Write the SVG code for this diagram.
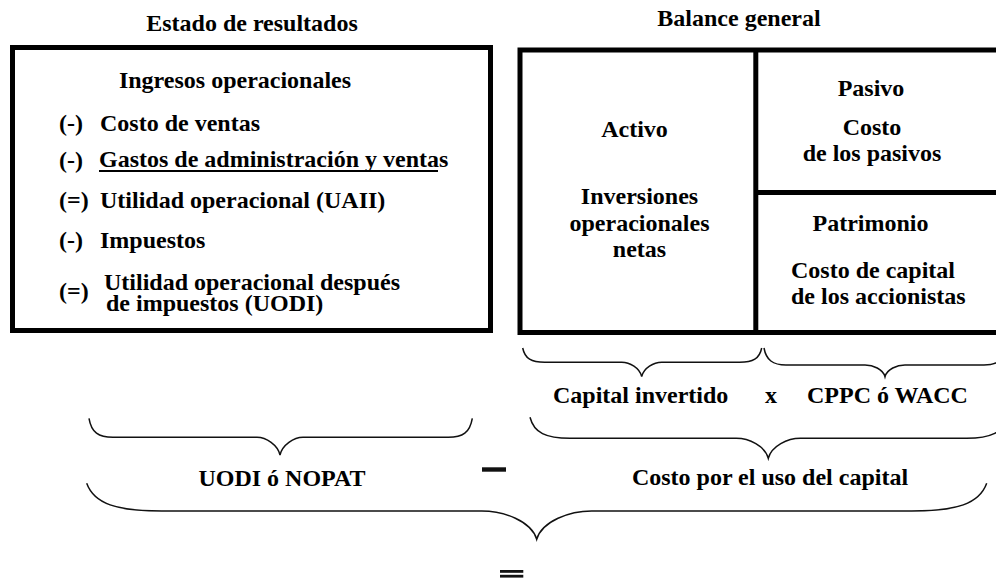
<svg xmlns="http://www.w3.org/2000/svg" width="996" height="579" viewBox="0 0 996 579">
<style>
  text { font-family: "Liberation Serif", "Times New Roman", serif; font-weight: bold; font-size: 24px; fill: #000; }
  .mid { text-anchor: middle; }
  .box { fill: none; stroke: #000; stroke-width: 5; }
  .div { stroke: #000; stroke-width: 5; }
  .brace { fill: none; stroke: #111; stroke-width: 1.5; }
  .bar { fill: #111; }
</style>
<rect width="996" height="579" fill="#fff"/>

<g id="estado-resultados">
  <text class="mid" x="252" y="31">Estado de resultados</text>
  <rect class="box" x="12.5" y="47.5" width="478" height="283"/>
  <text class="mid" x="235" y="88">Ingresos operacionales</text>
  <text x="59" y="131">(-)</text>
  <text x="100" y="131">Costo de ventas</text>
  <text x="59" y="168">(-)</text>
  <text x="99" y="166.5">Gastos de administración y ventas</text>
  <line x1="99" y1="171" x2="438" y2="171" stroke="#000" stroke-width="1.8"/>
  <text x="59" y="208">(=)</text>
  <text x="100" y="208">Utilidad operacional (UAII)</text>
  <text x="59" y="248">(-)</text>
  <text x="100" y="248">Impuestos</text>
  <text x="59" y="298.5">(=)</text>
  <text x="104" y="290">Utilidad operacional después</text>
  <text x="106" y="311">de impuestos (UODI)</text>
</g>

<g id="balance-general">
  <text class="mid" x="739" y="26">Balance general</text>
  <rect class="box" x="520" y="50" width="490" height="282.5"/>
  <line class="div" x1="755.8" y1="50" x2="755.8" y2="332.5"/>
  <line class="div" x1="755.8" y1="192.5" x2="1000" y2="192.5"/>
</g>

<g id="activo">
  <text class="mid" x="634.5" y="137">Activo</text>
  <text class="mid" x="639.5" y="204">Inversiones</text>
  <text class="mid" x="639.5" y="230.5">operacionales</text>
  <text class="mid" x="639.5" y="257">netas</text>
</g>

<g id="pasivo">
  <text class="mid" x="871" y="96">Pasivo</text>
  <text class="mid" x="872" y="135">Costo</text>
  <text class="mid" x="872" y="161">de los pasivos</text>
</g>

<g id="patrimonio">
  <text class="mid" x="870.5" y="231">Patrimonio</text>
  <text x="791" y="278">Costo de capital</text>
  <text x="791" y="304">de los accionistas</text>
</g>

<g id="connectors">
  <path class="brace" d="M522.7,348 C524.9,358.7 531.5,362.3 544.7,362.3 L621.7,362.3 C629.7,362.3 639.7,368 641.7,376.7 C643.7,368 653.7,362.3 661.7,362.3 L739.7,362.3 C752.9,362.3 759.5,358.7 761.7,348"/>
  <path class="brace" d="M764,348 C766.2,360 772.8,365 786,365 L865,365 C873,365 883,369 885,376.7 C887,369 897,365 905,365 L984,365 C997.2,365 1003.8,360 1006,348"/>
  <path class="brace" d="M530,417.3 C534,433 546,438.3 570,438.3 L736.3,438.3 C749,438.3 765,446 768.3,458.3 C771.6,446 787.6,438.3 800.3,438.3 L966.6,438.3 C990.6,438.3 1002.6,433 1006.6,417.3"/>
  <path class="brace" d="M89,418.3 C91.4,432.5 98.6,437.3 113,437.3 L257,437.3 C266.2,437.3 277.7,445 280,455 C282.3,445 293.8,437.3 303,437.3 L448.3,437.3 C462.7,437.3 469.9,432.5 472.3,418.3"/>
  <path class="brace" d="M86.7,483.3 C94.2,504 116.7,511 161.7,511 L481.7,511 C503.7,511 531.2,521 536.7,539.3 C542.2,521 569.7,511 591.7,511 L911.7,511 C956.7,511 979.2,504 986.7,483.3"/>
</g>

<g id="formula">
  <text x="553" y="403">Capital invertido</text>
  <text class="mid" x="771" y="403">x</text>
  <text x="807" y="403">CPPC ó WACC</text>
  <text class="mid" x="770" y="485">Costo por el uso del capital</text>
  <text class="mid" x="282" y="486">UODI ó NOPAT</text>
  <rect class="bar" x="482" y="467.3" width="24" height="4.4"/>
  <rect class="bar" x="500" y="570" width="23.3" height="2.8"/>
  <rect class="bar" x="500" y="574.8" width="23.3" height="2.8"/>
</g>
</svg>
